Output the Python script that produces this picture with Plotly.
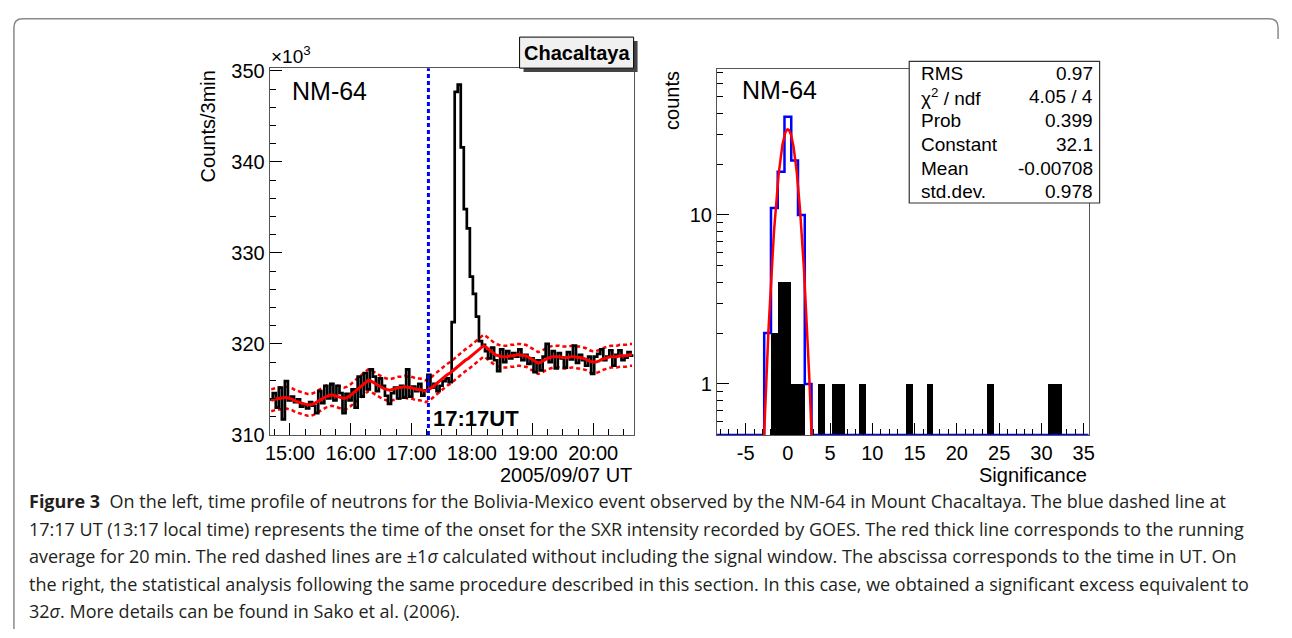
import datetime as dt
import numpy as np
import plotly.graph_objects as go

# ---------------- data (left panel: NM-64 counts per 3 min, in units of 10^3) -------------
t_start = "2005-09-07 14:40"
bin_minutes = 3
counts_k = [
    313.9, 314.6, 313.0, 315.2, 311.7, 315.9, 313.8, 314.2, 313.6, 313.9,
    313.1, 313.3, 312.9, 313.6, 313.2, 312.4, 314.8, 313.5, 315.4, 314.0,
    315.6, 313.8, 315.4, 314.6, 312.4, 314.5, 313.8, 315.0, 313.0, 316.4,
    314.2, 316.8, 315.0, 317.2, 316.4, 314.8, 316.2, 315.4, 314.3, 313.4,
    314.6, 315.2, 314.0, 315.4, 314.1, 317.2, 314.2, 315.3, 314.8, 315.6,
    314.3, 314.9, 316.6, 315.2, 315.6, 314.8, 315.4, 315.9, 316.2, 315.8,
    322.4, 347.7, 348.5, 341.6, 334.8, 332.7, 327.4, 325.5, 323.0, 320.3,
    319.9, 319.2, 318.4, 319.6, 318.2, 317.0, 319.4, 318.0, 319.2, 318.4,
    319.0, 318.6, 319.4, 318.2, 318.8, 317.8, 318.4, 316.9, 318.2, 317.1,
    318.6, 320.0, 318.0, 319.2, 317.3, 319.0, 318.4, 317.4, 319.1, 318.3,
    319.8, 317.9, 318.8, 318.2, 317.6, 318.6, 316.7, 318.6, 318.9, 319.4,
    318.2, 318.6, 319.3, 317.6, 318.8, 319.3, 318.2, 318.5, 319.1, 318.7,
]
running_avg_k = [
    313.8, 313.9, 314.0, 314.0, 314.1, 314.1, 314.0, 313.9, 313.7, 313.6,
    313.5, 313.4, 313.3, 313.3, 313.4, 313.6, 313.8, 314.0, 314.2, 314.3,
    314.4, 314.3, 314.2, 314.1, 314.0, 314.1, 314.3, 314.6, 314.9, 315.2,
    315.5, 315.8, 316.0, 315.9, 315.7, 315.5, 315.3, 315.1, 315.0, 314.9,
    315.0, 315.1, 315.2, 315.2, 315.3, 315.2, 315.2, 315.1, 315.0, 315.0,
    314.9, 314.8, 315.0, 315.2, 315.5, 315.8, 316.0, 316.3, 316.6, 316.8,
    317.1, 317.4, 317.6, 317.9, 318.2, 318.4, 318.7, 319.0, 319.2, 319.5,
    319.8, 319.6, 319.3, 319.0, 318.8, 318.7, 318.6, 318.6, 318.6, 318.7,
    318.7, 318.8, 318.8, 318.7, 318.7, 318.5, 318.3, 318.1, 317.9, 318.0,
    318.2, 318.4, 318.5, 318.6, 318.6, 318.6, 318.5, 318.5, 318.5, 318.6,
    318.6, 318.5, 318.5, 318.4, 318.3, 318.1, 318.0, 318.0, 318.1, 318.3,
    318.4, 318.5, 318.6, 318.6, 318.6, 318.7, 318.7, 318.7, 318.8, 318.8,
]
sigma_k = 1.2
onset_time = "2005-09-07 17:17"

# ---------------- data (right panel: significance distribution) ----------------
sig_lo, sig_bw, sig_nbins = -8.4, 0.8, 55
blue_bins = {7: 2, 8: 11, 9: 18, 10: 38, 11: 21, 12: 10, 13: 1}
black_bins = {8: 2, 9: 4, 10: 4, 11: 1, 12: 1, 15: 1, 17: 1, 18: 1, 21: 1,
              28: 1, 31: 1, 40: 1, 49: 1, 50: 1}
fit_const, fit_mean, fit_sigma = 32.1, -0.00708, 0.978
sig_ticks = [-5, 0, 5, 10, 15, 20, 25, 30, 35]
sig_tick_labels = ["-5", "0", "5", "10", "15", "20", "25", "30", "35"]
stats_labels = ["RMS", "χ<sup>2</sup> / ndf", "Prob", "Constant", "Mean", "std.dev."]
stats_values = ["0.97", "4.05 / 4", "0.399", "32.1", "-0.00708", "0.978"]

caption_lines = [
    "<b>Figure 3</b>  On the left, time profile of neutrons for the Bolivia-Mexico event observed by the NM-64 in Mount Chacaltaya. The blue dashed line at",
    "17:17 UT (13:17 local time) represents the time of the onset for the SXR intensity recorded by GOES. The red thick line corresponds to the running",
    "average for 20 min. The red dashed lines are ±1<i>σ</i> calculated without including the signal window. The abscissa corresponds to the time in UT. On",
    "the right, the statistical analysis following the same procedure described in this section. In this case, we obtained a significant excess equivalent to",
    "32<i>σ</i>. More details can be found in Sako et al. (2006).",
]

blue_counts = [blue_bins.get(k, 0) for k in range(sig_nbins)]
black_counts = [black_bins.get(k, 0) for k in range(sig_nbins)]

# ---------------- figure ----------------
W, H = 1292, 638
def px(x): return x / W
def py(y): return 1 - y / H

FONT = "Liberation Sans, Arial, Helvetica, sans-serif"
fig = go.Figure()

t0 = dt.datetime.strptime(t_start, "%Y-%m-%d %H:%M")
n = len(counts_k)
edges = [t0 + dt.timedelta(minutes=bin_minutes * i) for i in range(n + 1)]
centers = [t0 + dt.timedelta(minutes=bin_minutes * (i + 0.5)) for i in range(n)]
avg = np.array(running_avg_k)

for off in (sigma_k, -sigma_k):
    fig.add_trace(go.Scatter(x=centers, y=avg + off, mode="lines",
                             line=dict(color="#ff0000", width=2.5, dash="4px,3px"),
                             xaxis="x", yaxis="y", showlegend=False, hoverinfo="skip"))
fig.add_trace(go.Scatter(x=edges, y=list(counts_k) + [counts_k[-1]], mode="lines",
                         line=dict(color="black", width=2.7, shape="hv"),
                         xaxis="x", yaxis="y", showlegend=False))
fig.add_trace(go.Scatter(x=centers, y=avg, mode="lines",
                         line=dict(color="#ff0000", width=3),
                         xaxis="x", yaxis="y", showlegend=False))

sedges = [sig_lo + sig_bw * k for k in range(sig_nbins + 1)]
scenters = [sig_lo + sig_bw * (k + 0.5) for k in range(sig_nbins)]
ymin_log = 0.5
fig.add_trace(go.Bar(x=scenters, y=[c if c > 0 else None for c in black_counts], width=sig_bw,
                     marker=dict(color="black", line=dict(width=0)),
                     xaxis="x2", yaxis="y2", showlegend=False))
blue_draw = [max(c, ymin_log) for c in blue_counts]
fig.add_trace(go.Scatter(x=sedges, y=blue_draw + [blue_draw[-1]], mode="lines",
                         line=dict(color="#0000ff", width=2.5, shape="hv"),
                         xaxis="x2", yaxis="y2", showlegend=False))
gx = np.linspace(-3, 3, 241)
gy = fit_const * np.exp(-0.5 * ((gx - fit_mean) / fit_sigma) ** 2)
fig.add_trace(go.Scatter(x=gx, y=gy, mode="lines", line=dict(color="#ff0000", width=2.5),
                         xaxis="x2", yaxis="y2", showlegend=False))

axis_common = dict(showgrid=False, zeroline=False, showline=True, mirror=True,
                   linecolor="#555555", linewidth=1, ticks="inside", tickcolor="black",
                   tickfont=dict(family=FONT, size=20, color="black"))

fig.update_layout(
    width=W, height=H, margin=dict(l=0, r=0, t=0, b=0), autosize=False,
    paper_bgcolor="white", plot_bgcolor="white", bargap=0,
    xaxis=dict(axis_common, domain=[px(267), px(634)], anchor="y", type="date",
               range=[edges[0], edges[-1]], tickformat="%H:%M", dtick=3600000,
               tick0="2005-09-07 15:00", ticklen=12, ticklabelstandoff=0,
               minor=dict(ticks="inside", dtick=900000, ticklen=6, tickcolor="black")),
    yaxis=dict(axis_common, domain=[py(440), py(62)], anchor="x", range=[310, 350.3],
               dtick=10, tick0=310, ticklen=12, ticklabelstandoff=0,
               minor=dict(ticks="inside", dtick=2, ticklen=6, tickcolor="black")),
    xaxis2=dict(axis_common, domain=[px(718), px(1093)], anchor="y2",
                range=[sig_lo, sig_lo + sig_bw * sig_nbins], tickmode="array",
                tickvals=sig_ticks, ticktext=sig_tick_labels, ticklen=12,
                ticklabelstandoff=0,
                minor=dict(ticks="inside", dtick=1, tick0=0, ticklen=6, tickcolor="black")),
    yaxis2=dict(axis_common, domain=[py(440), py(63)], anchor="x2", type="log",
                range=[np.log10(0.5), np.log10(72.8)], tickmode="array",
                tickvals=[1, 10], ticktext=["1", "10"], ticklen=12, ticklabelstandoff=0,
                minor=dict(ticks="inside", tickmode="array", ticklen=6, tickcolor="black",
                           tickvals=[0.6, 0.7, 0.8, 0.9, 2, 3, 4, 5, 6, 7, 8, 9,
                                     20, 30, 40, 50, 60, 70])),
)

shapes = []
shapes.append(dict(type="line", xref="x", yref="y domain", x0=onset_time, x1=onset_time,
                   y0=0, y1=1, line=dict(color="#0000ff", width=3, dash="4px,3px")))
shapes.append(dict(type="rect", xref="paper", yref="paper", x0=px(523), x1=px(638),
                   y0=py(66), y1=py(34), fillcolor="#444444", line=dict(width=0)))
shapes.append(dict(type="rect", xref="paper", yref="paper", x0=px(519), x1=px(634),
                   y0=py(62), y1=py(30), fillcolor="#f0f0f0", line=dict(color="black", width=1)))
shapes.append(dict(type="rect", xref="paper", yref="paper", x0=px(912), x1=px(1104),
                   y0=py(201), y1=py(55), fillcolor="white", line=dict(color="#333333", width=1.2)))
r = 9
path = (f"M {px(9)},{py(640)} L {px(9)},{py(11 + r)} "
        f"Q {px(9)},{py(11)} {px(9 + r)},{py(11)} "
        f"L {px(1284 - r)},{py(11)} Q {px(1284)},{py(11)} {px(1284)},{py(11 + r)} "
        f"L {px(1284)},{py(32)}")
shapes.append(dict(type="path", xref="paper", yref="paper", path=path,
                   line=dict(color="#8a8a8a", width=1.5)))
fig.update_layout(shapes=shapes)

ann = []
def text(x, y, s, size=20, xanchor="left", yanchor="middle", angle=0, family=FONT, color="black"):
    ann.append(dict(x=px(x), y=py(y), xref="paper", yref="paper", text=s, showarrow=False,
                    xanchor=xanchor, yanchor=yanchor, textangle=angle,
                    font=dict(family=family, size=size, color=color)))

text(205, 62, "Counts/3min", 20, xanchor="center", yanchor="top", angle=-90)
text(266, 48, "×10<sup>3</sup>", 19)
text(287, 86, "NM-64", 25)
text(430, 423, "<b>17:17UT</b>", 22)
text(634, 481, "2005/09/07 UT", 20, xanchor="right")
text(577, 46, "<b>Chacaltaya</b>", 20, xanchor="center")

text(672, 63, "counts", 20, xanchor="center", yanchor="top", angle=-90)
text(741, 85, "NM-64", 25)
text(1093, 481, "Significance", 20, xanchor="right")
for i, (lab, val) in enumerate(zip(stats_labels, stats_values)):
    yy = 67 + 24.5 * i
    text(922, yy, lab, 19)
    text(1099, yy, val, 19, xanchor="right")

CAP_FONT = "Open Sans, sans-serif"
for i, line in enumerate(caption_lines):
    text(22, 508 + 28.5 * i, line, 18, family=CAP_FONT, color="#231f20")

fig.update_layout(annotations=ann)
fig.write_html("out.html", config={"displayModeBar": False},
               post_script="document.body.style.margin='0';document.body.style.padding='0';")
